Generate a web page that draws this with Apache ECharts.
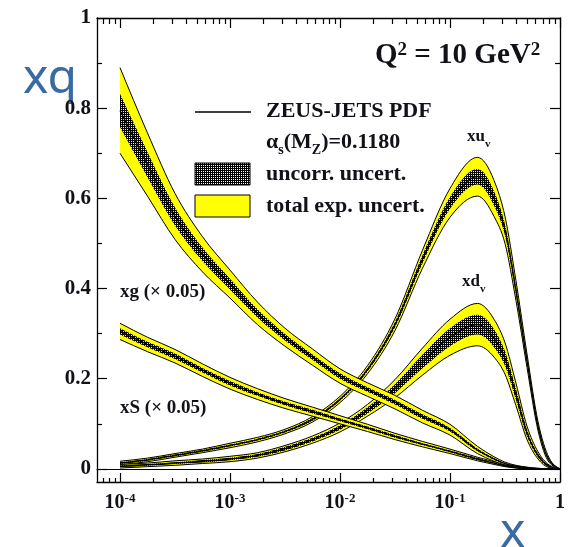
<!DOCTYPE html>
<html>
<head>
<meta charset="utf-8">
<script src="https://cdn.jsdelivr.net/npm/echarts@6/dist/echarts.min.js"></script>
<style>
html, body { margin: 0; padding: 0; background: #ffffff; }
#chart { width: 569px; height: 547px; }
</style>
</head>
<body>
<div id="chart"></div>
<script>
// Sample points in x (quarter decades, finer near the valence peaks)
const xGrid = [1e-4, 1.778e-4, 3.162e-4, 5.623e-4, 1e-3, 1.778e-3, 3.162e-3, 5.623e-3,
  0.01, 0.01778, 0.03162, 0.05623, 0.1, 0.1778, 0.2512, 0.3162, 0.3981, 0.5012, 0.631, 0.7943, 1];

// Gluon, scaled by 0.05
const xgCentral = [0.795, 0.675, 0.56, 0.476, 0.41, 0.345, 0.292, 0.248, 0.206, 0.176, 0.148, 0.116, 0.087, 0.042, 0.022, 0.012, 0.006, 0.003, 0.001, 0.0003, 0];
const xgTotErr  = [0.095, 0.07, 0.051, 0.039, 0.031, 0.025, 0.02, 0.018, 0.016, 0.015, 0.015, 0.014, 0.012, 0.008, 0.005, 0.003, 0.002, 0.001, 0, 0, 0];
const xgUncErr  = [0.037, 0.028, 0.02, 0.015, 0.012, 0.009, 0.007, 0.006, 0.006, 0.005, 0.005, 0.005, 0.004, 0.003, 0.002, 0.001, 0.001, 0, 0, 0, 0];

// Sea quarks, scaled by 0.05
const xsCentral = [0.305, 0.276, 0.25, 0.219, 0.19, 0.166, 0.145, 0.127, 0.109, 0.091, 0.072, 0.055, 0.039, 0.022, 0.013, 0.007, 0.003, 0.001, 0, 0, 0];
const xsTotErr  = [0.018, 0.016, 0.015, 0.014, 0.013, 0.012, 0.011, 0.01, 0.009, 0.008, 0.007, 0.006, 0.005, 0.004, 0.003, 0.002, 0.001, 0.001, 0, 0, 0];
const xsUncErr  = [0.007, 0.006, 0.006, 0.005, 0.005, 0.004, 0.004, 0.004, 0.003, 0.003, 0.003, 0.002, 0.002, 0.002, 0.001, 0.001, 0, 0, 0, 0, 0];

// u valence
const xuvCentral = [0.013, 0.02, 0.03, 0.04, 0.052, 0.065, 0.083, 0.11, 0.154, 0.22, 0.32, 0.465, 0.59, 0.648, 0.6, 0.53, 0.395, 0.24, 0.095, 0.02, 0];
const xuvTotErr  = [0.004, 0.004, 0.004, 0.004, 0.005, 0.005, 0.005, 0.006, 0.007, 0.009, 0.013, 0.02, 0.032, 0.043, 0.04, 0.03, 0.022, 0.015, 0.01, 0.005, 0];
const xuvUncErr  = [0.002, 0.002, 0.002, 0.002, 0.002, 0.002, 0.002, 0.003, 0.003, 0.004, 0.006, 0.009, 0.013, 0.017, 0.016, 0.012, 0.009, 0.006, 0.004, 0.002, 0];

// d valence
const xdvCentral = [0.006, 0.009, 0.013, 0.017, 0.022, 0.03, 0.045, 0.065, 0.092, 0.13, 0.178, 0.238, 0.292, 0.32, 0.29, 0.245, 0.165, 0.08, 0.03, 0.006, 0];
const xdvTotErr  = [0.004, 0.004, 0.005, 0.005, 0.006, 0.006, 0.007, 0.008, 0.01, 0.013, 0.02, 0.03, 0.04, 0.047, 0.042, 0.035, 0.025, 0.015, 0.008, 0.003, 0];
const xdvUncErr  = [0.002, 0.002, 0.002, 0.003, 0.003, 0.003, 0.004, 0.004, 0.005, 0.007, 0.01, 0.015, 0.02, 0.022, 0.02, 0.016, 0.012, 0.007, 0.004, 0.002, 0];

// Axis ticks
const xDecades = [-4, -3, -2, -1, 0];
const yMajorTicks = [0, 0.2, 0.4, 0.6, 0.8, 1];
const yMinorTicks = [0.1, 0.3, 0.5, 0.7, 0.9];
const xMin = 6.18e-5;
const yMin = -0.029;

const SERIF = '"Liberation Serif", "Times New Roman", "DejaVu Serif", serif';
const INK = '#111118';
const YELLOW = '#ffff00';
const BLUE = '#3a6aa4';

const xMajor = xDecades.map(e => Math.pow(10, e));
const xMinor = [];
for (let e = -5; e < 0; e++) {
  for (let m = 2; m <= 9; m++) {
    const v = m * Math.pow(10, e);
    if (v >= xMin && v < 1) xMinor.push(v);
  }
}

// Dotted dark fill for the uncorrelated band
function makeHatch() {
  const c = document.createElement('canvas');
  c.width = 4; c.height = 4;
  const g = c.getContext('2d');
  g.fillStyle = '#000';
  g.fillRect(0, 0, 4, 4);
  g.clearRect(1, 1, 1, 1); g.clearRect(3, 3, 1, 1);
  g.clearRect(3, 1, 1, 1); g.clearRect(1, 3, 1, 1);
  return c;
}
const hatch = { image: makeHatch(), repeat: 'repeat' };

// Monotone cubic path through pixel points (no overshoot on steep edges)
function smoothPath(pts, cmd) {
  const n = pts.length;
  const h = [], s = [], t = new Array(n);
  for (let i = 0; i < n - 1; i++) {
    h[i] = pts[i + 1][0] - pts[i][0];
    s[i] = h[i] !== 0 ? (pts[i + 1][1] - pts[i][1]) / h[i] : 0;
  }
  for (let i = 1; i < n - 1; i++) {
    const p = (s[i - 1] * h[i] + s[i] * h[i - 1]) / (h[i - 1] + h[i]);
    t[i] = (Math.sign(s[i - 1]) + Math.sign(s[i])) *
      Math.min(Math.abs(s[i - 1]), Math.abs(s[i]), 0.5 * Math.abs(p)) || 0;
  }
  t[0] = (3 * s[0] - t[1]) / 2;
  t[n - 1] = (3 * s[n - 2] - t[n - 2]) / 2;
  let d = cmd + pts[0][0].toFixed(2) + ',' + pts[0][1].toFixed(2);
  for (let i = 0; i < n - 1; i++) {
    const dx = h[i] / 3;
    const a = pts[i], b = pts[i + 1];
    d += ' C' + (a[0] + dx).toFixed(2) + ',' + (a[1] + dx * t[i]).toFixed(2) + ' ' +
      (b[0] - dx).toFixed(2) + ',' + (b[1] - dx * t[i + 1]).toFixed(2) + ' ' +
      b[0].toFixed(2) + ',' + b[1].toFixed(2);
  }
  return d;
}
const bandPath = (hi, lo) => smoothPath(hi, 'M') + ' ' + smoothPath(lo.slice().reverse(), 'L') + ' Z';

function curveLayer(key, central, totErr, uncErr) {
  return {
    type: 'custom', name: key, silent: true, animation: false, clip: true,
    xAxisIndex: 0, yAxisIndex: 0,
    data: xGrid.map((x, i) => [x, central[i]]),
    encode: { x: 0, y: 1 },
    renderItem: (params, api) => {
      if (params.dataIndex !== 0) return null;
      const toPx = ys => xGrid.map((x, i) => api.coord([x, ys[i]]));
      const tHi = toPx(central.map((v, i) => v + totErr[i]));
      const tLo = toPx(central.map((v, i) => v - totErr[i]));
      const uHi = toPx(central.map((v, i) => v + uncErr[i]));
      const uLo = toPx(central.map((v, i) => v - uncErr[i]));
      const mid = toPx(central);
      const line = (pts, w) => ({ type: 'path', shape: { pathData: smoothPath(pts, 'M') },
        style: { fill: 'none', stroke: '#000', lineWidth: w } });
      return {
        type: 'group',
        children: [
          { type: 'path', shape: { pathData: bandPath(tHi, tLo) }, style: { fill: YELLOW, stroke: null } },
          { type: 'path', shape: { pathData: bandPath(uHi, uLo) }, style: { fill: hatch, stroke: null } },
          line(tHi, 1), line(tLo, 1), line(mid, 1.3)
        ]
      };
    }
  };
}

const series = [
  curveLayer('xuv', xuvCentral, xuvTotErr, xuvUncErr),
  curveLayer('xdv', xdvCentral, xdvTotErr, xdvUncErr),
  curveLayer('xs', xsCentral, xsTotErr, xsUncErr),
  curveLayer('xg', xgCentral, xgTotErr, xgUncErr)
];

const frameLine = { show: true, onZero: false, lineStyle: { color: '#000', width: 1.3 } };
const tickStyle = { color: '#000', width: 1.2 };

function xAxisDef(position, values, len, withLabels) {
  return {
    type: 'log', logBase: 10, min: xMin, max: 1, position: position,
    axisLine: withLabels !== null ? frameLine : { show: false, onZero: false },
    axisTick: { show: true, inside: true, length: len, customValues: values, lineStyle: tickStyle },
    axisLabel: withLabels ? {
      show: true, customValues: values, margin: 10,
      formatter: v => {
        const e = Math.round(Math.log10(v));
        return e === 0 ? '{b|1}' : '{b|10}{s|' + e + '}';
      },
      rich: {
        b: { fontFamily: SERIF, fontWeight: 'bold', fontSize: 20, lineHeight: 22, color: INK },
        s: { fontFamily: SERIF, fontWeight: 'bold', fontSize: 13, lineHeight: 13, verticalAlign: 'top', color: INK }
      }
    } : { show: false },
    splitLine: { show: false }, minorTick: { show: false }
  };
}

// horizontal line at y = 0 across the frame
const zeroAxis = {
  type: 'log', logBase: 10, min: xMin, max: 1, position: 'bottom',
  axisLine: { show: true, onZero: true, lineStyle: { color: '#000', width: 1.2 } },
  axisTick: { show: false }, axisLabel: { show: false }, splitLine: { show: false }
};

function yAxisDef(position, values, len, withLabels, line) {
  return {
    type: 'value', min: yMin, max: 1, position: position,
    axisLine: line ? frameLine : { show: false, onZero: false },
    axisTick: { show: true, inside: true, length: len, customValues: values, lineStyle: tickStyle },
    axisLabel: withLabels ? {
      show: true, customValues: values, margin: 6,
      fontFamily: SERIF, fontWeight: 'bold', fontSize: 21, color: INK,
      formatter: v => (v === 0 ? '0' : v === 1 ? '1' : v.toFixed(1))
    } : { show: false },
    splitLine: { show: false }
  };
}

const txt = (x, y, text, size, extra) => Object.assign({
  type: 'text', x: x, y: y, silent: true,
  style: Object.assign({ text: text, fill: INK, fontFamily: SERIF, fontWeight: 'bold', fontSize: size,
    verticalAlign: 'middle', align: 'left' }, extra || {})
});

const subRich = (size, supRatio) => ({
  m: { fontFamily: SERIF, fontWeight: 'bold', fontSize: size, lineHeight: size + 2, fill: INK, color: INK },
  u: { fontFamily: SERIF, fontWeight: 'bold', fontSize: Math.round(size * 0.62), lineHeight: size + 2, verticalAlign: 'bottom', fill: INK, color: INK, padding: [0, 0, -3, 0] },
  s: { fontFamily: SERIF, fontWeight: 'bold', fontSize: Math.round(size * (supRatio || 0.62)), lineHeight: size + 2, verticalAlign: 'top', fill: INK, color: INK }
});

const graphic = [
  // axis captions
  { type: 'text', x: 23, y: 79, silent: true, style: { text: 'xq', fill: BLUE, font: '48px "Noto Sans", "Open Sans", sans-serif', verticalAlign: 'middle' } },
  { type: 'text', x: 500, y: 533, silent: true, style: { text: 'x', fill: BLUE, font: '48px "Noto Sans", "Open Sans", sans-serif', verticalAlign: 'middle' } },
  // scale
  txt(375, 56, '{m|Q}{s|2}{m| = 10 GeV}{s|2}', 29, { rich: subRich(29, 0.64) }),
  // legend
  { type: 'line', silent: true, shape: { x1: 195, y1: 112, x2: 251, y2: 112 }, style: { stroke: '#000', lineWidth: 1.5 } },
  txt(266, 111, 'ZEUS-JETS PDF', 22),
  txt(266, 142, '{m|α}{u|s}{m|(M}{u|Z}{m|)=0.1180}', 22, { rich: subRich(22) }),
  { type: 'rect', silent: true, shape: { x: 195, y: 163, width: 55, height: 22 }, style: { fill: hatch, stroke: '#000', lineWidth: 1 } },
  txt(266, 174, 'uncorr. uncert.', 22),
  { type: 'rect', silent: true, shape: { x: 195, y: 195, width: 55, height: 22 }, style: { fill: YELLOW, stroke: '#000', lineWidth: 1 } },
  txt(266, 206, 'total exp. uncert.', 22),
  // curve labels
  txt(467, 137, '{m|xu}{u|v}', 17, { rich: subRich(17) }),
  txt(462, 282, '{m|xd}{u|v}', 17, { rich: subRich(17) }),
  txt(120, 292, 'xg (\u00d7 0.05)', 19),
  txt(120, 408, 'xS (\u00d7 0.05)', 19)
];

const chart = echarts.init(document.getElementById('chart'), null, { renderer: 'canvas' });
chart.setOption({
  animation: false,
  backgroundColor: '#ffffff',
  grid: { left: 97, right: 9, top: 18, bottom: 65, containLabel: false, outerBoundsMode: 'none' },
  xAxis: [
    xAxisDef('bottom', xMajor, 9, true),
    xAxisDef('bottom', xMinor, 4, null),
    xAxisDef('top', xMajor, 10, false),
    xAxisDef('top', xMinor, 6, null),
    zeroAxis
  ],
  yAxis: [
    yAxisDef('left', yMajorTicks, 10, true, true),
    yAxisDef('left', yMinorTicks, 5, false, false),
    yAxisDef('right', yMajorTicks, 10, false, true),
    yAxisDef('right', yMinorTicks, 5, false, false)
  ],
  series: series,
  graphic: graphic
});
</script>
</body>
</html>
